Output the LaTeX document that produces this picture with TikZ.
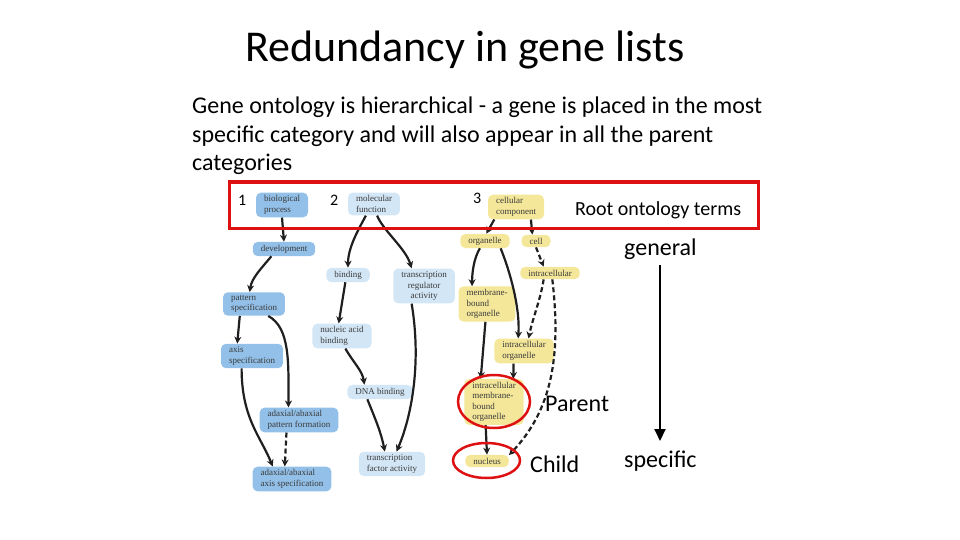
\documentclass[tikz,border=0pt]{standalone}
\usepackage{fontspec}
\setmainfont{Carlito}
\newfontfamily\gofont{Liberation Serif}
\usetikzlibrary{positioning,arrows.meta,shapes.geometric}

\definecolor{bpblue}{HTML}{93C0E8}
\definecolor{mfblue}{HTML}{D2E6F6}
\definecolor{ccyell}{HTML}{F4E79A}
\definecolor{boxred}{HTML}{DD1111}
\definecolor{gotext}{HTML}{3A3A3A}

\begin{document}
\begin{tikzpicture}[x=1pt, y=-1pt,
  term/.style={rounded corners=5pt, align=left, inner xsep=8pt, inner ysep=3pt,
               font=\gofont\fontsize{9}{10.5}\selectfont, text=gotext},
  bio/.style={term, fill=bpblue},
  mol/.style={term, fill=mfblue},
  cel/.style={term, fill=ccyell},
  isa/.style={-{Stealth[length=7pt,width=7pt]}, line width=2.2pt, black!88},
  part/.style={isa, dash pattern=on 5pt off 3pt},
  ring/.style={ellipse, draw=boxred, line width=2.5pt, inner sep=0pt},
  slide/.style={font=\fontsize{24}{28.5}\selectfont, inner sep=0pt, anchor=base west},
  num/.style={font=\fontsize{16}{18}\selectfont, inner sep=0pt, anchor=base west},
  spread/.style={-{Triangle[length=12pt,width=11pt]}, line width=2pt},
]
\useasboundingbox (0,0) rectangle (960,540);

% slide text
\node[inner sep=0pt, anchor=base west, font=\fontsize{44}{52}\selectfont] (title)
  at (245,62) {Redundancy in gene lists};
\node[slide] (l1) at (192,114) {Gene ontology is hierarchical - a gene is placed in the most};
\node[slide] (l2) at (192,142.5) {specific category and will also appear in all the parent};
\node[slide] (l3) at (192,171) {categories};

% the three roots
\node[bio] (bp)   at (282,205) {biological\\process};
\node[mol] (mf)   at (374,204) {molecular\\function};
\node[cel] (cc)   at (516,207) {cellular\\component};
\node[num] (n1) at (238,205) {1};
\node[num] (n2) at (330,205) {2};
\node[num] (n3) at (473,203) {3};

% biological process
\node[bio] (dev)  at (284,249) {development};
\node[bio] (pat)  at (254,304) {pattern\\specification};
\node[bio] (axis) at (252,356) {axis\\specification};
\node[bio] (apf)  at (299,420) {adaxial/abaxial\\pattern formation};
\node[bio] (aas)  at (292,479) {adaxial/abaxial\\axis specification};

% molecular function
\node[mol] (bind) at (348,275) {binding};
\node[mol, align=center] (trr) at (424,286) {transcription\\regulator\\activity};
\node[mol] (nab)  at (342,336) {nucleic acid\\binding};
\node[mol] (dna)  at (380,392) {DNA binding};
\node[mol] (tfa)  at (392,464) {transcription\\factor activity};

% cellular component
\node[cel] (org)  at (485,241) {organelle};
\node[cel] (cell) at (536,241) {cell};
\node[cel] (intra) at (550,273) {intracellular};
\node[cel] (mbo)  at (487,304) {membrane-\\bound\\organelle};
\node[cel] (io)   at (524,351) {intracellular\\organelle};
\node[cel] (imbo) at (494,402) {intracellular\\membrane-\\bound\\organelle};
\node[cel] (nuc)  at (487,461) {nucleus};

\draw[isa] (bp.south) -- (dev.north);
\draw[isa] (dev.210) .. controls +(-10,12) and +(2,-14) .. (pat.110);
\draw[isa] (pat.220) -- (axis.140);
\draw[isa] (pat.320) .. controls +(22,12) and +(0,-45) .. (apf.130);
\draw[isa] (axis.230) .. controls +(0,50) and +(-12,-30) .. (aas.147);
\draw[part] (apf.225) -- (aas.120);

\draw[isa] (mf.235) .. controls +(-8,15) and +(0,-20) .. (bind.north);
\draw[isa] (mf.285) .. controls +(6,15) and +(-6,-20) .. (trr.125);
\draw[isa] (bind.250) -- (nab.105);
\draw[isa] (nab.285) .. controls +(8,14) and +(-2,-14) .. (dna.155);
\draw[isa] (dna.210) .. controls +(8,20) and +(-4,-20) .. (tfa.120);
\draw[isa] (trr.235) .. controls +(10,60) and +(15,-35) .. (tfa.70);

\draw[isa] (cc.210) -- (org.80);
\draw[isa] (cc.320) -- (cell.120);
\draw[part] (cell.south) -- (intra.135);
\draw[isa] (org.235) .. controls +(-6,10) and +(0,-14) .. (mbo.130);
\draw[isa] (org.335) .. controls +(10,25) and +(2,-30) .. (io.115);
\draw[part] (intra.225) .. controls +(-3,20) and +(4,-20) .. (io.70);
\draw[part] (intra.290) .. controls +(9,77) and +(43,-45) .. (nuc.15);
\draw[isa] (mbo.265) -- (imbo.120);
\draw[isa] (io.230) -- (imbo.50);
\draw[isa] (imbo.250) -- (nuc.north);

% highlights
\node[draw=boxred, line width=3pt, minimum width=529pt, minimum height=46pt,
      inner sep=0pt] (rootbox) at (493.5,205) {};
\node[ring, minimum width=72pt, minimum height=53pt] (r1) at (494,401.5) {};
\node[ring, minimum width=67pt, minimum height=35pt] (r2) at (486.5,460.5) {};

\node[inner sep=0pt, anchor=base west, font=\fontsize{20}{24}\selectfont] (roots)
  at (575,215) {Root ontology terms};
\node[slide] (parent) at (545,411) {Parent};
\node[slide] (child)  at (530,472) {Child};
\node[slide] (gen)    at (624,255) {general};
\node[slide] (spec)   at (624,467) {specific};
\coordinate (gtop) at (660,265);
\coordinate (gbot) at (660,441);
\draw[spread] (gtop) -- (gbot);
\end{tikzpicture}
\end{document}
